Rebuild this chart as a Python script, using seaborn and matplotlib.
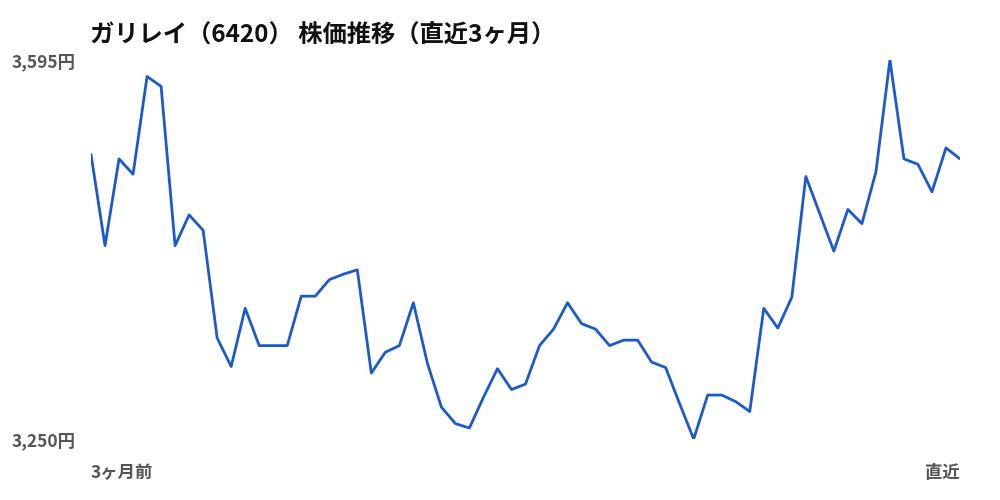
import matplotlib
matplotlib.use("Agg")
import matplotlib.pyplot as plt
import seaborn as sns
import pandas as pd

title = "ガリレイ（6420） 株価推移（直近3ヶ月）"
prices = [3509, 3426, 3505, 3491, 3580, 3571, 3426, 3454, 3440, 3342,
          3316, 3369, 3335, 3335, 3335, 3380, 3380, 3395, 3400, 3404,
          3310, 3329, 3335, 3374, 3319, 3279, 3264, 3260, 3288, 3314,
          3295, 3300, 3335, 3350, 3374, 3355, 3350, 3335, 3340, 3340,
          3320, 3315, 3282, 3250, 3290, 3290, 3284, 3275, 3369, 3351,
          3379, 3489, 3455, 3421, 3459, 3446, 3493, 3595, 3505, 3500,
          3475, 3515, 3505]
y_tick_values = [3250, 3595]
y_tick_labels = ["3,250円", "3,595円"]
x_tick_labels = ["3ヶ月前", "直近"]

df = pd.DataFrame({"day": range(len(prices)), "price": prices})

sns.set_theme(style="white")
plt.rcParams['font.family'] = ['Noto Sans CJK JP', 'DejaVu Sans']

fig = plt.figure(figsize=(10, 5), dpi=100)
ax = fig.add_axes([0.091, 0.122, 0.869, 0.758])
sns.lineplot(data=df, x="day", y="price", ax=ax, color="#1c5acb", linewidth=2.0)

ax.set_xlim(0, len(prices) - 1)
ax.set_ylim(min(y_tick_values), max(y_tick_values))
for s in ax.spines.values():
    s.set_visible(False)
ax.set_xlabel("")
ax.set_ylabel("")

ax.set_yticks(y_tick_values)
ax.set_yticklabels(y_tick_labels, fontsize=12.5, fontweight="bold", color="#555555")
ax.tick_params(axis="y", length=0, pad=11)

ax.set_xticks([0, len(prices) - 1])
ax.set_xticklabels(x_tick_labels, fontsize=12.5, fontweight="bold", color="#555555")
ax.tick_params(axis="x", length=0, pad=18)
xl = ax.get_xticklabels()
xl[0].set_horizontalalignment("left")
xl[1].set_horizontalalignment("right")

fig.text(0.09, 0.928, title, fontsize=17.5, fontweight="bold", color="#111111",
         ha="left", va="center")

fig.savefig("out.png", dpi=100)
